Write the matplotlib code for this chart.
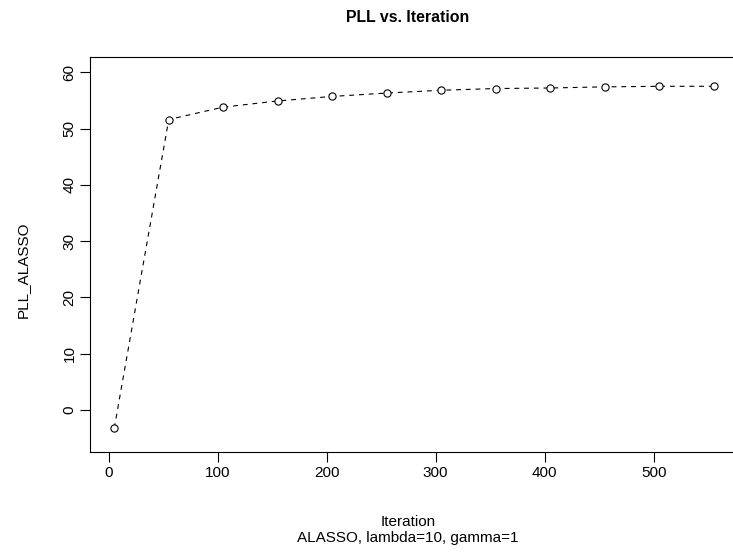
import matplotlib
matplotlib.use("Agg")
import matplotlib.pyplot as plt

# PLL trace (every 50 iterations)
iterations = [5, 55, 105, 155, 205, 255, 305, 355, 405, 455, 505, 555]
pll_alasso = [-3.2, 51.6, 53.8, 54.9, 55.7, 56.3, 56.8, 57.1, 57.2, 57.4, 57.5, 57.5]
x_ticks = [0, 100, 200, 300, 400, 500]
y_ticks = [0, 10, 20, 30, 40, 50, 60]

W, H = 733, 554
CX = 408  # horizontal centre of the titles, in pixels

plt.rcParams["font.family"] = ["Liberation Sans", "DejaVu Sans"]
plt.rcParams["lines.scale_dashes"] = False

fig = plt.figure(figsize=(W / 100, H / 100), dpi=100)
ax = fig.add_axes([90.3 / W, 1 - 452.3 / H, (737.5 - 90.3) / W, (452.3 - 57.3) / H])

ax.plot(iterations, pll_alasso, color="black", linewidth=0.8, dashes=(3.5, 3.5),
        marker="o", markersize=5.2, markerfacecolor="white",
        markeredgecolor="black", markeredgewidth=0.8)

ax.set_xlim(-17, 577)
ax.set_ylim(-7.5, 62.65)
ax.set_xticks(x_ticks)
ax.set_yticks(y_ticks)
ax.set_yticklabels([str(v) for v in y_ticks], rotation=90, va="center")
ax.tick_params(direction="out", length=7, width=0.8, labelsize=11, pad=3)
for spine in ax.spines.values():
    spine.set_linewidth(0.8)

fig.text(CX / W, 1 - 18 / H, "PLL vs. Iteration",
         ha="center", va="center", fontsize=11.4, fontweight="bold")
fig.text(CX / W, 1 - 522 / H, "Iteration",
         ha="center", va="center", fontsize=11)
fig.text(CX / W, 1 - 538 / H, "ALASSO, lambda=10, gamma=1",
         ha="center", va="center", fontsize=11)
fig.text(23 / W, 1 - 270 / H, "PLL_ALASSO", rotation=90,
         ha="center", va="center", fontsize=11)

fig.savefig("out.png", dpi=100)
plt.close(fig)
